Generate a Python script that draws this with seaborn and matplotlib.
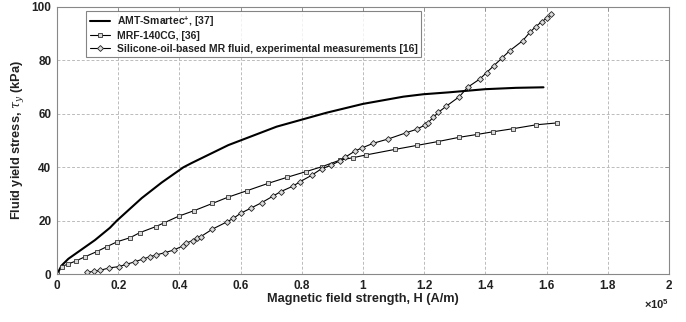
import matplotlib
matplotlib.use("Agg")
import matplotlib.pyplot as plt
import seaborn as sns

# Magnetic field strength in units of 1e5 A/m, yield stress in kPa
amt_h = [0.0, 0.015, 0.037, 0.124, 0.173, 0.195, 0.277, 0.342, 0.413, 0.44,
         0.56, 0.718, 0.881, 1.0, 1.132, 1.197, 1.279, 1.4, 1.5, 1.59]
amt_tau = [0.0, 3.3, 5.8, 12.8, 17.4, 20.0, 28.5, 34.3, 40.0, 41.6,
           48.3, 55.2, 60.4, 63.7, 66.4, 67.3, 68.0, 69.2, 69.7, 69.9]

mrf_h = [0.0, 0.015, 0.035, 0.062, 0.092, 0.13, 0.162, 0.197, 0.239, 0.271, 0.322,
         0.351, 0.399, 0.448, 0.508, 0.558, 0.622, 0.69, 0.753, 0.814, 0.865,
         0.925, 0.968, 1.009, 1.105, 1.177, 1.244, 1.314, 1.374, 1.426, 1.489,
         1.567, 1.635]
mrf_tau = [0.0, 2.9, 3.8, 5.0, 6.6, 8.5, 10.3, 12.2, 13.7, 15.6, 17.8,
           19.3, 21.8, 23.8, 26.5, 28.8, 31.3, 34.0, 36.3, 38.4, 40.2,
           42.7, 43.6, 44.6, 46.7, 48.2, 49.6, 51.2, 52.3, 53.3, 54.4,
           55.9, 56.6]

sil_h = [0.099, 0.121, 0.141, 0.17, 0.203, 0.225, 0.255, 0.28, 0.304, 0.322,
         0.353, 0.382, 0.411, 0.42, 0.443, 0.456, 0.47, 0.508, 0.557, 0.576,
         0.6, 0.633, 0.669, 0.707, 0.731, 0.772, 0.794, 0.832, 0.865, 0.895,
         0.925, 0.941, 0.974, 0.996, 1.034, 1.083, 1.141, 1.175, 1.203, 1.213,
         1.23, 1.246, 1.273, 1.315, 1.342, 1.382, 1.404, 1.428, 1.453, 1.48,
         1.522, 1.546, 1.565, 1.584, 1.6, 1.616]
sil_tau = [0.7, 1.2, 1.5, 2.4, 2.9, 3.7, 4.7, 5.7, 6.6, 7.2,
           8.1, 9.1, 10.6, 11.6, 12.6, 13.5, 14.1, 16.9, 19.7, 20.9,
           22.8, 24.7, 26.8, 29.3, 30.9, 33.0, 34.6, 37.0, 39.5, 40.7,
           42.5, 43.7, 46.1, 47.2, 49.0, 50.6, 52.9, 54.2, 55.8, 56.7,
           58.7, 60.5, 62.9, 66.4, 69.9, 73.0, 75.4, 78.0, 80.7, 83.6,
           87.3, 90.5, 92.6, 94.4, 95.7, 97.2]

labels = ["AMT-Smartec$^{+}$, [37]", "MRF-140CG, [36]",
          "Silicone-oil-based MR fluid, experimental measurements [16]"]
x_ticks = [0, 0.2, 0.4, 0.6, 0.8, 1, 1.2, 1.4, 1.6, 1.8, 2]
x_tick_labels = ["0", "0.2", "0.4", "0.6", "0.8", "1", "1.2", "1.4", "1.6", "1.8", "2"]
y_ticks = [0, 20, 40, 60, 80, 100]

sns.set_style("white")
plt.rcParams["font.family"] = ["Liberation Sans", "DejaVu Sans"]
plt.rcParams["mathtext.fontset"] = "custom"
plt.rcParams["mathtext.rm"] = "Liberation Sans:bold"
plt.rcParams["mathtext.it"] = "DejaVu Serif:italic"

fig = plt.figure(figsize=(6.86, 3.22), dpi=100)
ax = fig.add_axes([0.0831, 0.148, 0.892, 0.831])

sns.lineplot(x=amt_h, y=amt_tau, ax=ax, color="black", lw=1.5,
             estimator=None, sort=False, label=labels[0])
sns.lineplot(x=mrf_h, y=mrf_tau, ax=ax, color="black", lw=0.8, marker="s",
             markersize=2.6, markerfacecolor="#d8d8d8", markeredgecolor="#333333",
             markeredgewidth=0.6, estimator=None, sort=False, label=labels[1])
sns.lineplot(x=sil_h, y=sil_tau, ax=ax, color="black", lw=0.8, marker="D",
             markersize=3.0, markerfacecolor="#dcdcdc", markeredgecolor="#222222",
             markeredgewidth=0.6, estimator=None, sort=False, label=labels[2])

ax.set_xlim(0, 2)
ax.set_ylim(0, 100)
ax.set_xticks(x_ticks)
ax.set_xticklabels(x_tick_labels)
ax.set_yticks(y_ticks)
ax.grid(True, color="#bbbbbb", linestyle=(0, (3, 2)), linewidth=0.7)
for s in ax.spines.values():
    s.set_color("#888888")
    s.set_linewidth(0.8)
ax.tick_params(direction="in", length=3, width=0.6, color="#888888",
               top=True, right=True, labelsize=8.5, labelcolor="#222222", pad=4)
for t in ax.get_xticklabels() + ax.get_yticklabels():
    t.set_fontweight("bold")

ax.set_xlabel("Magnetic field strength, H (A/m)", fontsize=9.2,
              fontweight="bold", color="#222222", labelpad=1)
ax.set_ylabel(r"Fluid yield stress, $\tau_y$ (kPa)", fontsize=9.2,
              fontweight="bold", color="#222222", labelpad=4)

ax.text(1.0, -0.085, r"$\times$10$^5$", transform=ax.transAxes, ha="right",
        va="top", fontsize=8, color="#222222", fontweight="bold")

leg = ax.legend(loc="upper left", bbox_to_anchor=(0.048, 0.985), frameon=True,
                prop={"weight": "bold", "size": 7.5},
                handlelength=2.0, borderpad=0.3, labelspacing=0.25,
                handletextpad=0.6, fancybox=False, borderaxespad=0)
leg.get_frame().set_edgecolor("#666666")
leg.get_frame().set_linewidth(0.8)
for t in leg.get_texts():
    t.set_color("#222222")

fig.savefig("out.png", dpi=100)
